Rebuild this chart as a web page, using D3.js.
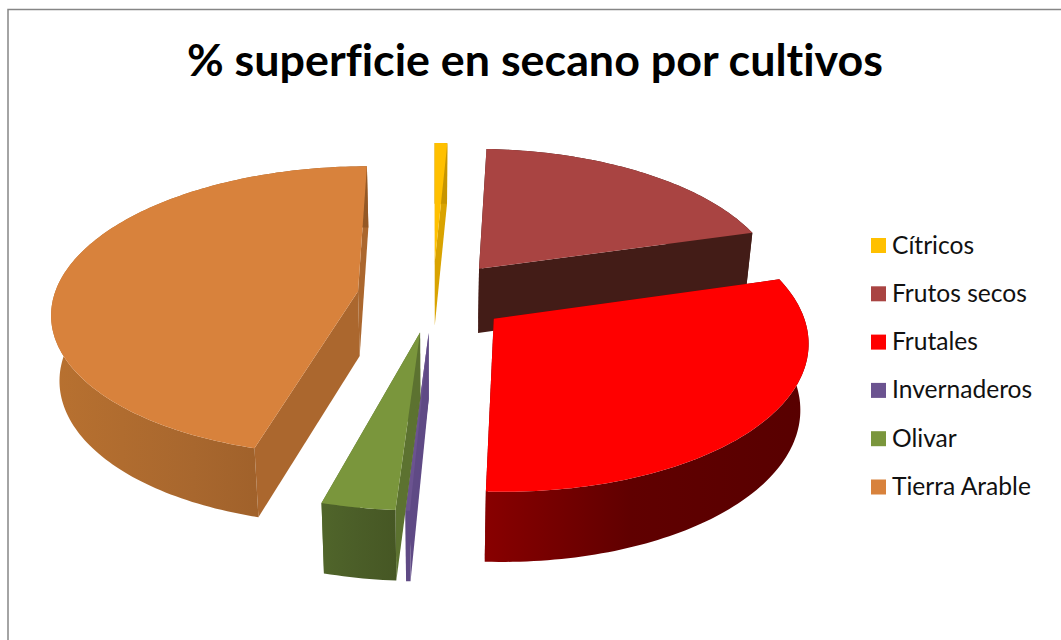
<!DOCTYPE html>
<html><head><meta charset="utf-8">
<script src="https://cdnjs.cloudflare.com/ajax/libs/d3/7.8.5/d3.min.js"></script>
<style>html,body{margin:0;padding:0;background:#fff;overflow:hidden}svg{display:block}text{font-family:Lato,"Open Sans",sans-serif;fill:#111;font-variant-ligatures:none}</style>
</head><body><svg id="c" width="1061" height="640"></svg>
<script>
const titleText = "% superficie en secano por cultivos";
const categories = ["Cítricos","Frutos secos","Frutales","Invernaderos","Olivar","Tierra Arable"];
const shares = [0.78,19.8,30.2,0.2,3.3,45.72];
const topColors = ["#ffc000","#a94442","#ff0000","#6b5390","#7a963c","#d8823c"];
const cutColors = ["#d9a300","#431c17","#6e0000","#5f4a85","#5c7230","#ab672e"];
const wallLeft  = ["#c79500","#431c17","#880000","#5f4a85","#50652a","#b87130"];
const wallMid   = ["#c79500","#431c17","#600000","#5f4a85","#4b5e28","#a8672e"];
const wallRight = ["#c79500","#431c17","#580000","#5f4a85","#465724","#945825"];
const drawOrder = [0,1,5,2,3,4];

const svg = d3.select("#c");
svg.append("path").attr("d","M8 640V9.5H1061").attr("fill","none").attr("stroke","#868686").attr("stroke-width",1.5);
svg.append("text").attr("x",535).attr("y",76).attr("text-anchor","middle")
   .attr("font-size",44.8).attr("font-weight",700).style("fill","#000").text(titleText);

const pieData = d3.pie().sort(null).startAngle(0).endAngle(2*Math.PI)(shares);
const cx=433, cy=296, A=304, B=143, p=0.135, explode=0.25, D=65, zShrink=0.022;
const sx=d3.scaleLinear().domain([0,1]).range([0,A]);
const sy=d3.scaleLinear().domain([0,1]).range([0,B]);
function proj(u,v,z){const s=1/(1+p*v);
  return [cx+sx(u)*s*(1-zShrink*z), cy-sy(v)*s+z*D*Math.pow(s,0.45)];}
const line=d3.line();
const defs=svg.append("defs");

drawOrder.forEach(i=>{
  const d=pieData[i], a0=d.startAngle, a1=d.endAngle, mid=(a0+a1)/2;
  const ou=explode*Math.sin(mid), ov=explode*Math.cos(mid);
  const P=(t,r,z)=>proj(ou+r*Math.sin(t),ov+r*Math.cos(t),z);
  const n=Math.max(2,Math.ceil((a1-a0)/0.02));
  const ts=d3.range(n+1).map(k=>a0+(a1-a0)*k/n);
  const g=svg.append("g").attr("class","slice");
  const rimTop=ts.map(t=>P(t,1,0)), rimBot=ts.map(t=>P(t,1,1));
  const xs=rimTop.map(q=>q[0]);
  const id="w"+i;
  const lg=defs.append("linearGradient").attr("id",id).attr("gradientUnits","userSpaceOnUse")
    .attr("x1",d3.min(xs)).attr("x2",d3.max(xs)).attr("y1",0).attr("y2",0);
  lg.append("stop").attr("offset",0).attr("stop-color",wallLeft[i]);
  lg.append("stop").attr("offset",0.45).attr("stop-color",wallMid[i]);
  lg.append("stop").attr("offset",1).attr("stop-color",wallRight[i]);
  [a0,a1].forEach(t=>{
    g.append("path").attr("d",line([P(t,0,0),P(t,1,0),P(t,1,1),P(t,0,1)])+"Z").attr("fill",cutColors[i]);
  });
  g.append("path").attr("d",line(rimTop.concat(rimBot.slice().reverse()))+"Z").attr("fill",`url(#${id})`);
  g.append("path").attr("d",line([P(a0,0,0)].concat(rimTop))+"Z").attr("fill",topColors[i]);
});

const leg=svg.append("g");
categories.forEach((c,i)=>{
  const y=238+i*48.3;
  leg.append("rect").attr("x",871).attr("y",y).attr("width",15).attr("height",15).attr("fill",topColors[i]);
  leg.append("text").attr("x",892).attr("y",y+15.5).attr("font-size",24.6).text(c);
});
</script></body></html>
